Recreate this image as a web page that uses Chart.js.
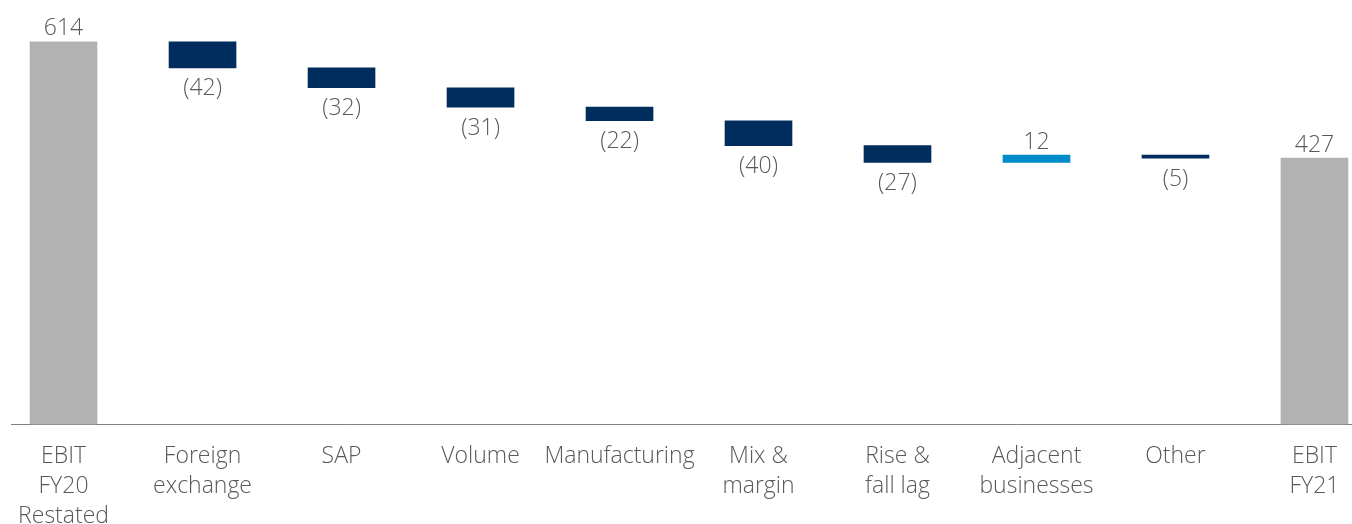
<!DOCTYPE html>
<html>
<head>
<meta charset="utf-8">
<script src="https://cdn.jsdelivr.net/npm/chart.js@4/dist/chart.umd.min.js"></script>
<style>
  html, body { margin: 0; padding: 0; background: #ffffff; }
  #wrap { width: 1352px; height: 524px; position: relative; }
</style>
</head>
<body>
<div id="wrap"><canvas id="c"></canvas></div>
<script>
// ---- data ----
const categories = [
  ["EBIT", "FY20", "Restated"],
  ["Foreign", "exchange"],
  ["SAP"],
  ["Volume"],
  ["Manufacturing"],
  ["Mix &", "margin"],
  ["Rise &", "fall lag"],
  ["Adjacent", "businesses"],
  ["Other"],
  ["EBIT", "FY21"]
];
const startValues = [0, 614, 572, 540, 509, 487, 447, 420, 432, 0];
const endValues   = [614, 572, 540, 509, 487, 447, 420, 432, 427, 427];
const valueLabels = ["614", "(42)", "(32)", "(31)", "(22)", "(40)", "(27)", "12", "(5)", "427"];
const barKinds    = ["total", "down", "down", "down", "down", "down", "down", "up", "down", "total"];

// ---- styles ----
const kindColors = { total: "#b2b2b2", down: "#002d5e", up: "#008bcb" };
const textColor = "#595959";
const fontFamily = "'Open Sans', 'Noto Sans', sans-serif";

const points = categories.map((c, i) => ({ x: i, y: [startValues[i], endValues[i]] }));

const valueLabelPlugin = {
  id: "valueLabels",
  afterDatasetsDraw(chart) {
    const ctx = chart.ctx;
    const meta = chart.getDatasetMeta(0);
    ctx.save();
    ctx.font = "300 23px " + fontFamily;
    ctx.fillStyle = textColor;
    ctx.textAlign = "center";
    ctx.textBaseline = "middle";
    meta.data.forEach((el, i) => {
      const top = Math.min(el.y, el.base);
      const bottom = Math.max(el.y, el.base);
      if (barKinds[i] === "down") {
        ctx.fillText(valueLabels[i], el.x, bottom + 21);
      } else {
        ctx.fillText(valueLabels[i], el.x, top - 13);
      }
    });
    ctx.restore();
  }
};

new Chart(document.getElementById("c"), {
  type: "bar",
  data: {
    datasets: [{
      data: points,
      backgroundColor: barKinds.map(k => kindColors[k]),
      borderWidth: 0,
      barThickness: 67,
      clip: false
    }]
  },
  options: {
    responsive: true,
    maintainAspectRatio: false,
    animation: false,
    layout: { padding: { left: 11, right: 0, top: 0, bottom: 0 } },
    plugins: {
      legend: { display: false },
      tooltip: { enabled: false }
    },
    scales: {
      x: {
        type: "linear",
        offset: false,
        min: -0.378,
        max: 9.27,
        grid: { display: false, drawTicks: false },
        border: { display: true, color: "#808080", width: 1 },
        afterFit: (scale) => {
          scale.height = 100;
          scale.paddingLeft = 0;
          scale.paddingRight = 0;
        },
        ticks: {
          stepSize: 1,
          includeBounds: false,
          autoSkip: false,
          maxRotation: 0,
          padding: 18,
          color: textColor,
          font: { family: fontFamily, size: 23, weight: 300, lineHeight: 1.3 },
          callback: (v) => (Number.isInteger(v) && categories[v]) ? categories[v] : ""
        }
      },
      y: {
        display: false,
        min: 0,
        max: 681
      }
    }
  },
  plugins: [valueLabelPlugin]
});
</script>
</body>
</html>
